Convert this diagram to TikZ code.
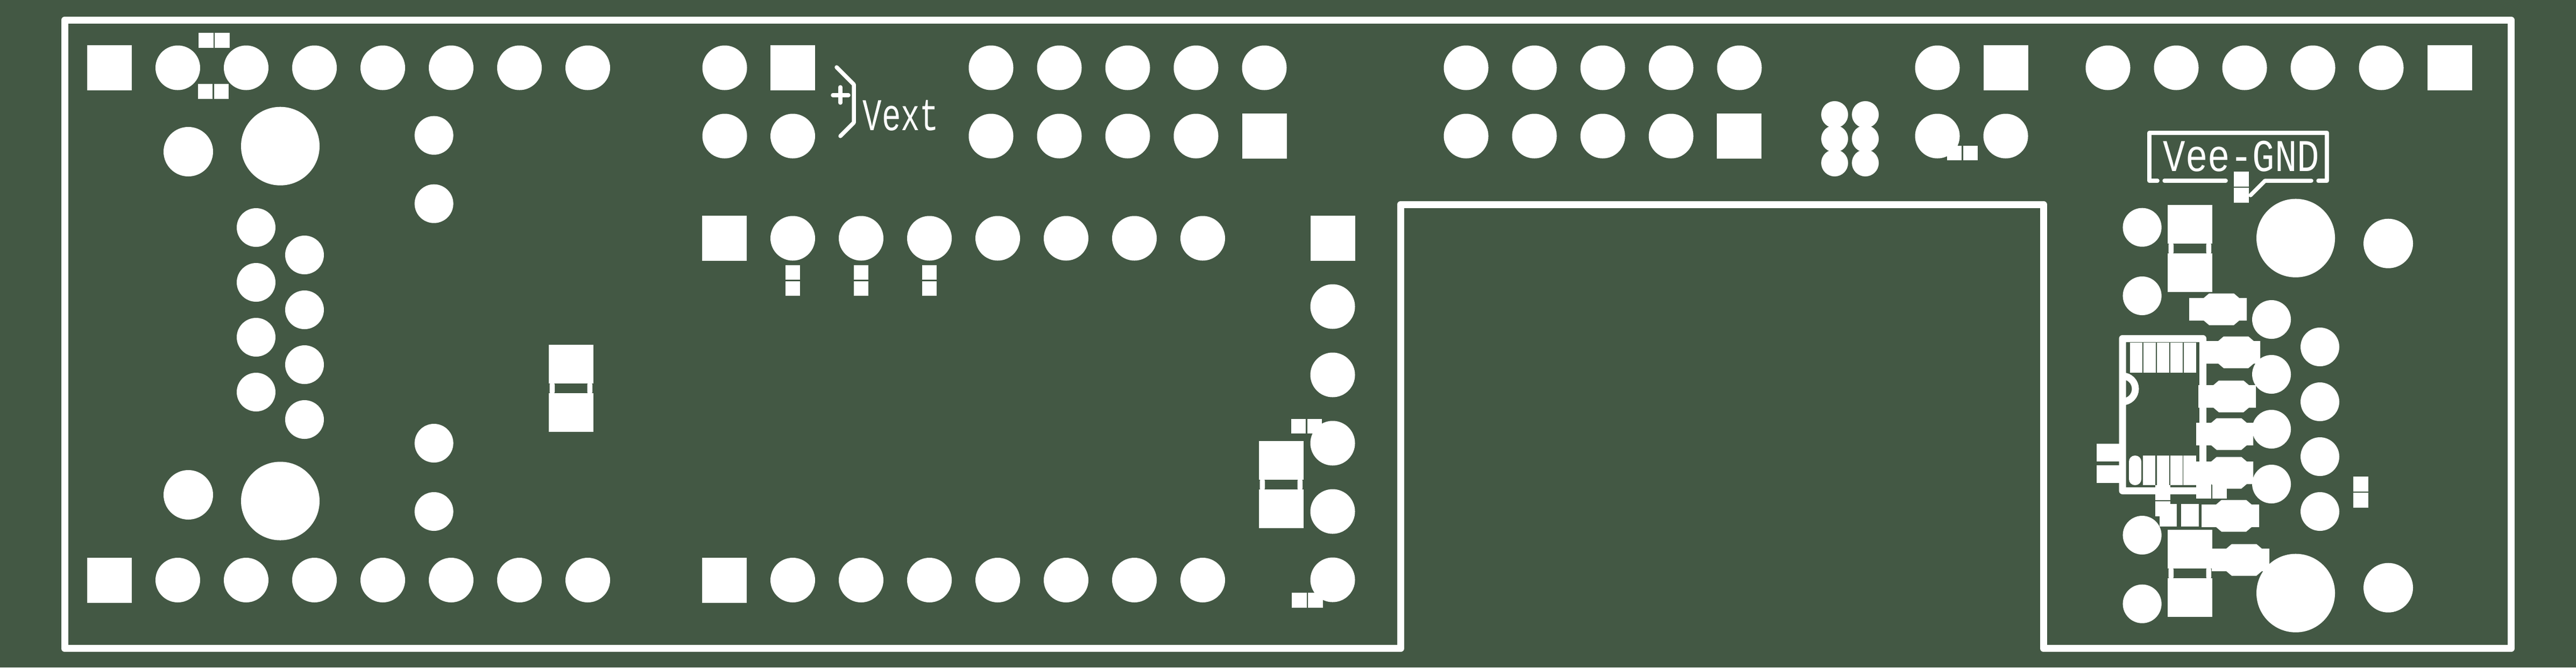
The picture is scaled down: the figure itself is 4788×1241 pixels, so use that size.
\documentclass[tikz,border=0pt]{standalone}
\usepackage{fontspec}
\setmainfont{Liberation Mono}
\definecolor{boardgreen}{RGB}{67,88,68}
\tikzset{
  x=0.01cm,y=-0.01cm,
  pad/.style={fill=white,draw=none},
  outline/.style={draw=white,line width=13*0.01cm,line cap=round,line join=round},
  silk/.style={draw=white,line width=7.5*0.01cm,line cap=round,line join=round},
  lbl/.style={text=white,inner sep=0pt,transform shape,font=\fontsize{24}{26}\selectfont},
}
\newcommand\rp[4]{\fill[pad] (#1,#2) rectangle (#3,#4);}
\newcommand\cp[3]{\fill[pad] (#1,#2) circle[radius=#3];}
% square through-hole pad, centre given
\newcommand\sq[2]{\fill[pad] ({#1-41.5},{#2-42}) rectangle ({#1+41.5},{#2+42});}
% chamfered SMD pad: centre, left extent, right extent
\newcommand\oct[4]{\fill[pad] ({#1-#3},{#2-21}) -- ({#1-33},{#2-21}) -- ({#1-23},{#2-29.5}) -- ({#1+23},{#2-29.5}) -- ({#1+33},{#2-21}) -- ({#1+#4},{#2-21}) -- ({#1+#4},{#2+21}) -- ({#1+33},{#2+21}) -- ({#1+23},{#2+29.5}) -- ({#1-23},{#2+29.5}) -- ({#1-33},{#2+21}) -- ({#1-#3},{#2+21}) -- cycle;}
% big split SMD: left, top
\newcommand\split[2]{\fill[pad] (#1,#2) rectangle ({#1+82.5},{#2+72});
  \fill[pad] (#1,{#2+90}) rectangle ({#1+82.5},{#2+162});
  \fill[pad,rounded corners=3*0.01cm] ({#1+1.5},{#2+71}) rectangle ({#1+11},{#2+91});
  \fill[pad,rounded corners=3*0.01cm] ({#1+71.5},{#2+71}) rectangle ({#1+81},{#2+91});}
\begin{document}
\begin{tikzpicture}
\fill[boardgreen] (0,0) rectangle (4788,1241);
\useasboundingbox (0,0) rectangle (4788,1241);
% board outline
\draw[outline] (120,37.5) -- (4667.5,37.5) -- (4667.5,1205.5) -- (3798,1205.5) -- (3798,380) -- (2603.5,380) -- (2603.5,1205.5) -- (120,1205.5) -- cycle;
% left header rows
\sq{203.5}{126}
\sq{203.5}{1078.5}
\foreach \x in {330.5,457.5,584.5,711.5,838.5,965.5,1092.5}{\cp{\x}{126}{41.5}\cp{\x}{1078.5}{41.5}}
\rp{369}{61}{397}{89}\rp{398.5}{61}{427}{89}
\rp{368}{156}{395}{184}\rp{397.5}{156}{425}{184}
% left connector
\cp{521}{271.7}{73}\cp{521}{931.5}{73}
\cp{350}{282}{46}\cp{350}{920}{46}
\foreach \y in {251.7,378.7,824,951}{\cp{806.6}{\y}{36}}
\foreach \y in {423,525,627,729}{\cp{476}{\y}{36}}
\foreach \y in {474,576,678,780}{\cp{566}{\y}{36}}
\split{1020}{641}
% centre top
\cp{1347}{126}{41.5}\sq{1473.5}{126}
\cp{1347}{253}{41.5}\cp{1473.5}{253}{41.5}
\draw[silk] (1555,125) -- (1587,157) -- (1587,228) -- (1562,253);
\draw[silk] (1548,177) -- (1577,177);
\draw[silk] (1562,162) -- (1562,191);
\node[lbl,xscale=0.7] (vext) at (1674.5,215) {Vext};
\foreach \x in {1842,1969,2096,2223,2350}{\cp{\x}{126}{41.5}}
\foreach \x in {1842,1969,2096,2223}{\cp{\x}{253}{41.5}}
\sq{2350}{253}
% centre row
\sq{1346.5}{443}
\sq{1346.5}{1078.5}
\foreach \x in {1473.5,1600.5,1727.5,1854.5,1981.5,2108.5,2235.5}{\cp{\x}{443}{41.5}\cp{\x}{1078.5}{41.5}}
\foreach \x in {1473.5,1600.5,1727.5}{\rp{\x-13.5}{493}{\x+13.5}{520}\rp{\x-13.5}{523}{\x+13.5}{550}}
% right column of centre block
\sq{2477}{443}
\foreach \y in {570,697,824,951,1078}{\cp{2477}{\y}{41.5}}
\rp{2400}{779}{2427}{806}\rp{2430}{779}{2457}{806}
\rp{2401}{1102}{2429}{1130}\rp{2431}{1102}{2459}{1130}
\split{2340}{820}
% third block
\foreach \x in {2725,2852,2979,3106,3233}{\cp{\x}{126}{41.5}}
\foreach \x in {2725,2852,2979,3106}{\cp{\x}{253}{41.5}}
\sq{3232.5}{253}
\foreach \x in {3410,3467}{\foreach \y in {213,258,303}{\cp{\x}{\y}{25}}}
\cp{3601}{126}{41.5}\sq{3728}{126}
\cp{3601}{253}{41.5}\cp{3728}{253}{41.5}
\rp{3619}{271}{3646}{298}\rp{3649}{271}{3676}{298}
% top right row
\foreach \x in {3918,4045,4172,4299,4426}{\cp{\x}{126}{41.5}}
\sq{4553}{126}
% Vee-GND label
\draw[silk] (4010,336) -- (3995,336) -- (3995,247) -- (4325,247) -- (4325,336) -- (4309,336);
\draw[silk] (4023,336) -- (4137,336);
\draw[silk] (4183,363) -- (4210,336) -- (4296,336);
\node[lbl,xscale=0.82] (vee) at (4166,290.5) {Vee-GND};
\rp{4152}{319}{4180}{347}\rp{4152}{349}{4180}{377}
% right connector
\cp{4267}{442.7}{73}\cp{4267}{1102.7}{73}
\cp{4439}{452.7}{46}\cp{4439}{1092.7}{46}
\foreach \y in {422.7,550,995,1122.7}{\cp{3981.6}{\y}{36}}
\foreach \y in {594,696,798,900}{\cp{4222}{\y}{36}}
\foreach \y in {645,747,849,951}{\cp{4312}{\y}{36}}
\split{4029}{381}
\split{4029}{985}
% IC outline
\draw[outline] (4094.5,629.5) -- (3945,629.5) -- (3945,747) arc[start angle=90,end angle=-90,radius=24] -- (3945,912.5) -- (4094.5,912.5) -- cycle;
\foreach \x in {3959,3984,4009,4034,4059}{\rp{\x}{637}{\x+23}{693}}
\fill[pad,rounded corners=11*0.01cm] (3957,847) rectangle (3980,902);
\foreach \x in {3983,4009,4034}{\rp{\x}{847}{\x+23}{902}}
\rp{4058}{847}{4082}{902}
\rp{3897}{825}{3945}{858}\rp{3897}{865}{3945}{898}
% SMD pads
\oct{4129}{575}{60}{47}
\oct{4156}{655}{60}{45}
\oct{4147}{737}{61}{46}
\oct{4143}{807}{61}{45}
\oct{4143}{879}{61}{45}
\oct{4152}{959}{60}{47}
\oct{4171}{1041}{60}{47}
\rp{4006}{902}{4034}{930}\rp{4006}{932}{4034}{960}
\rp{4082}{899}{4110}{927}\rp{4112}{899}{4139}{927}
\rp{4014}{937}{4046}{979}\rp{4054}{937}{4087}{979}
\rp{4374}{886}{4402}{914}\rp{4374}{916}{4402}{944}
\end{tikzpicture}
\end{document}
